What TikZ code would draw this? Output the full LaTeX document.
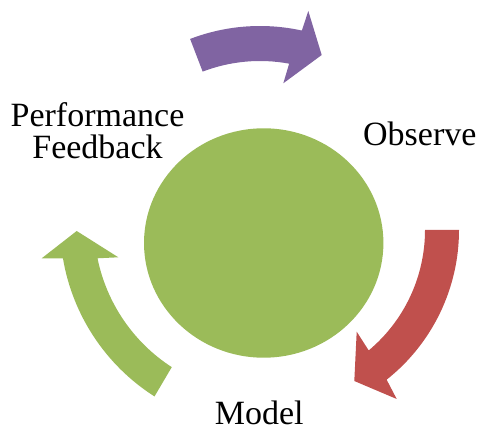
\documentclass[tikz,border=0pt]{standalone}
\usepackage{fontspec}
\setmainfont{Liberation Serif}
\usetikzlibrary{calc,shapes.geometric}
\definecolor{cyPurple}{HTML}{8064A2}
\definecolor{cyRed}{HTML}{C0504D}
\definecolor{cyGreen}{HTML}{9BBB59}
\begin{document}
\begin{tikzpicture}[x=1pt,y=1pt,
  lbl/.style={font=\fontsize{34}{31.7}\selectfont, inner sep=0pt, text=black},
  hubstyle/.style={ellipse, fill=cyGreen, inner sep=0pt}]
\useasboundingbox (0,0) rectangle (481,425);
% central disc
\node[hubstyle, minimum width=239.4pt, minimum height=229.4pt] (hub) at (263.7,182) {};
% arc centres
\coordinate (cP) at (260,204);
\coordinate (cR) at (268,195);
\coordinate (cG) at (264.1,200.6);
% purple arrow (top)
\coordinate (pBarbO) at (308.3,414);
\coordinate (pTip) at (321.7,370);
\coordinate (pBarbI) at (283.3,341.7);
\fill[cyPurple] ($(cP)+(111:195)$) arc[start angle=111, end angle=77.6, radius=195]
  -- (pBarbO) -- (pTip) -- (pBarbI)
  -- ($(cP)+(79.5:160)$) arc[start angle=79.5, end angle=111, radius=160] -- cycle;
% red arrow (right)
\coordinate (rBarbO) at (396.7,26);
\coordinate (rTip) at (354.3,44);
\coordinate (rBarbI) at (356.7,93.3);
\fill[cyRed] ($(cR)+(0:191)$) arc[start angle=0, end angle=-51.6, radius=191]
  -- (rBarbO) -- (rTip) -- (rBarbI)
  -- ($(cR)+(-50.1:157)$) arc[start angle=-50.1, end angle=0, radius=157] -- cycle;
% green arrow (left)
\coordinate (gBarbO) at (41.7,166.7);
\coordinate (gTip) at (76.7,194);
\coordinate (gBarbI) at (118.3,167.7);
\fill[cyGreen] ($(cG)+(237.5:204)$) arc[start angle=237.5, end angle=189.6, radius=204]
  -- (gBarbO) -- (gTip) -- (gBarbI)
  -- ($(cG)+(191.5:170)$) arc[start angle=191.5, end angle=237.1, radius=170] -- cycle;
% labels
\node[lbl, align=center] (fb) at (97.5,294.1) {Performance\\Feedback};
\node[lbl, anchor=base] (obs) at (419.8,279.3) {Observe};
\node[lbl, anchor=base] (mdl) at (259.3,0.7) {Model};
\end{tikzpicture}
\end{document}
